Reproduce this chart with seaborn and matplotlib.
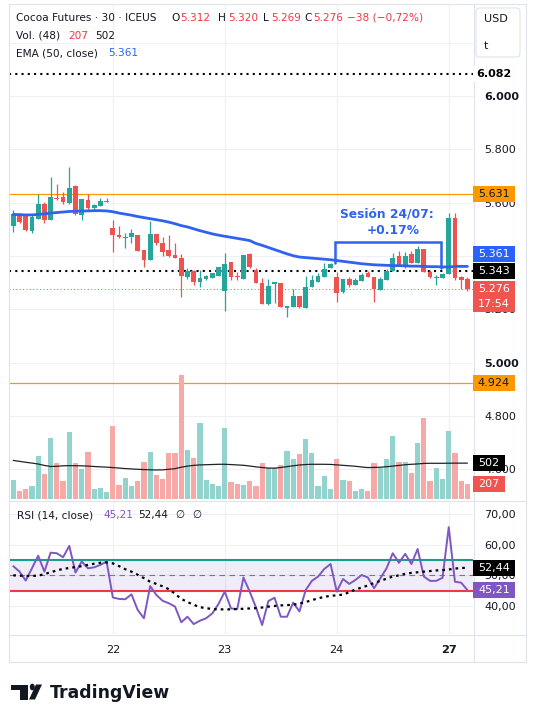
import numpy as np
import pandas as pd
import seaborn as sns
import matplotlib.pyplot as plt
from matplotlib.lines import Line2D
from matplotlib.patches import Rectangle, Polygon, Circle, FancyBboxPatch

# Cocoa Futures, 30 min bars (21 Jul afternoon -> 27 Jul morning)
opens = [5.512, 5.554, 5.550, 5.494, 5.539, 5.595, 5.535, 5.619, 5.622, 5.600,
         5.664, 5.554, 5.610, 5.581, 5.587, 5.604,
         5.504, 5.479, 5.469, 5.472, 5.479, 5.422, 5.385, 5.482, 5.447, 5.422,
         5.404, 5.391, 5.320, 5.345, 5.304, 5.315, 5.319, 5.326,
         5.270, 5.379, 5.326, 5.314, 5.407, 5.347, 5.297, 5.219, 5.294, 5.300,
         5.206, 5.210, 5.250, 5.206, 5.282, 5.304, 5.320, 5.354,
         5.320, 5.266, 5.312, 5.291, 5.306, 5.337, 5.322, 5.272, 5.310, 5.345,
         5.400, 5.362, 5.407, 5.372, 5.425, 5.341, 5.318, 5.316,
         5.332, 5.541, 5.320, 5.312]
highs = [5.572, 5.560, 5.554, 5.554, 5.631, 5.604, 5.697, 5.670, 5.641, 5.735,
         5.666, 5.614, 5.632, 5.595, 5.616, 5.616,
         5.535, 5.512, 5.485, 5.501, 5.479, 5.422, 5.531, 5.482, 5.470, 5.479,
         5.447, 5.407, 5.354, 5.347, 5.347, 5.329, 5.337, 5.357,
         5.410, 5.379, 5.341, 5.404, 5.410, 5.354, 5.316, 5.312, 5.303, 5.300,
         5.212, 5.275, 5.250, 5.325, 5.329, 5.335, 5.372, 5.372,
         5.341, 5.314, 5.322, 5.316, 5.335, 5.343, 5.322, 5.320, 5.350, 5.410,
         5.420, 5.416, 5.420, 5.437, 5.425, 5.347, 5.329, 5.335,
         5.563, 5.560, 5.325, 5.320]
lows = [5.491, 5.522, 5.495, 5.487, 5.539, 5.525, 5.535, 5.610, 5.595, 5.595,
        5.554, 5.535, 5.572, 5.572, 5.587, 5.604,
        5.416, 5.466, 5.431, 5.450, 5.420, 5.357, 5.385, 5.441, 5.400, 5.397,
        5.391, 5.245, 5.314, 5.291, 5.285, 5.310, 5.316, 5.326,
        5.195, 5.310, 5.310, 5.314, 5.354, 5.300, 5.219, 5.216, 5.222, 5.210,
        5.172, 5.210, 5.204, 5.204, 5.282, 5.304, 5.320, 5.354,
        5.229, 5.260, 5.285, 5.291, 5.306, 5.322, 5.229, 5.272, 5.310, 5.345,
        5.362, 5.354, 5.372, 5.372, 5.341, 5.316, 5.291, 5.316,
        5.332, 5.310, 5.275, 5.269]
closes = [5.556, 5.529, 5.497, 5.547, 5.595, 5.535, 5.622, 5.612, 5.601, 5.656,
          5.557, 5.614, 5.579, 5.591, 5.607, 5.606,
          5.479, 5.470, 5.470, 5.485, 5.420, 5.385, 5.482, 5.447, 5.416, 5.400,
          5.394, 5.325, 5.344, 5.304, 5.319, 5.325, 5.335, 5.357,
          5.370, 5.322, 5.322, 5.404, 5.357, 5.300, 5.219, 5.287, 5.301, 5.210,
          5.212, 5.250, 5.210, 5.282, 5.310, 5.325, 5.350, 5.369,
          5.262, 5.314, 5.291, 5.310, 5.329, 5.322, 5.275, 5.312, 5.344, 5.391,
          5.362, 5.400, 5.372, 5.425, 5.341, 5.320, 5.322, 5.332,
          5.541, 5.316, 5.310, 5.276]
volumes = [266, 112, 140, 182, 602, 350, 854, 504, 252, 938, 504, 420, 658, 140, 154, 98,
           1022, 196, 294, 182, 252, 518, 658, 336, 280, 644, 644, 1737, 686, 574, 1064, 266, 210, 182,
           994, 238, 210, 196, 252, 182, 504, 434, 429, 476, 677, 560, 630, 840, 644, 182, 322, 140,
           560, 266, 252, 112, 140, 112, 504, 439, 560, 882, 518, 518, 364, 784, 1134, 252, 434, 280,
           952, 644, 252, 207]
vol_ma = [540, 527, 514, 503, 490, 470, 455, 458, 465, 467, 466, 464, 461, 455, 450, 446,
          440, 433, 426, 421, 416, 412, 409, 406, 408, 416, 425, 445, 460, 471, 477, 480, 483, 486,
          486, 482, 477, 472, 462, 450, 441, 433, 432, 441, 453, 465, 476, 483, 486, 486, 486, 484,
          478, 471, 465, 458, 448, 440, 442, 445, 452, 461, 470, 480, 486, 491, 498, 500, 500, 500,
          501, 502, 502, 502]
ema50 = [5.556, 5.555, 5.554, 5.554, 5.556, 5.558, 5.561, 5.563, 5.565, 5.567, 5.568, 5.569,
         5.569, 5.570, 5.570, 5.569,
         5.566, 5.561, 5.557, 5.553, 5.548, 5.544, 5.540, 5.536, 5.532, 5.527, 5.521, 5.514,
         5.509, 5.502, 5.495, 5.489, 5.483, 5.478,
         5.474, 5.470, 5.466, 5.462, 5.458, 5.447, 5.440, 5.432, 5.424, 5.416, 5.408, 5.401,
         5.396, 5.394, 5.392, 5.390, 5.388, 5.386,
         5.383, 5.380, 5.377, 5.374, 5.371, 5.369, 5.367, 5.366, 5.365, 5.364, 5.364, 5.363,
         5.362, 5.362, 5.361, 5.360, 5.360, 5.359,
         5.359, 5.361, 5.361, 5.361]
rsi = [53.0, 51.2, 48.3, 52.3, 56.4, 51.2, 57.4, 57.2, 55.9, 59.6, 50.9, 54.5, 52.3, 52.6, 53.4, 54.5,
       42.8, 42.3, 42.2, 43.8, 38.7, 36.0, 46.5, 43.6, 41.7, 40.9, 39.8, 34.7, 36.5, 34.1, 35.2, 36.0,
       37.6, 40.7,
       44.7, 39.2, 39.0, 49.3, 44.7, 39.6, 33.8, 41.6, 42.7, 36.5, 36.5, 41.1, 38.2, 45.2, 48.2, 49.6,
       52.1, 53.7,
       44.7, 48.8, 47.2, 48.5, 50.1, 49.3, 45.8, 49.0, 52.3, 57.2, 54.1, 57.0, 53.7, 58.6, 49.6, 48.2,
       48.2, 49.2,
       65.7, 47.9, 47.6, 45.21]
rsi_ma = [50.0, 49.9, 49.8, 49.8, 49.9, 50.4, 51.0, 51.6, 52.1, 52.4, 52.7, 53.0, 53.4, 53.8, 54.1, 54.2,
          53.9, 53.0, 52.0, 51.2, 50.2, 49.1, 47.9, 47.2, 46.4, 45.5, 44.0, 42.3, 41.3, 40.4, 39.6, 39.3,
          39.0, 38.9,
          38.9, 38.9, 39.0, 39.1, 39.2, 39.3, 39.5, 39.8, 40.0, 40.2, 40.3, 40.4, 40.8, 41.3, 41.9, 42.5,
          43.0, 43.3,
          43.5, 43.7, 44.5, 45.4, 46.0, 46.7, 47.5, 48.2, 48.9, 49.6, 50.0, 50.5, 50.8, 51.0, 51.2, 51.4,
          51.6, 51.7,
          51.9, 52.2, 52.4, 52.44]
day_labels = ['22', '23', '24', '27']
day_first_bar = [17, 35, 53, 71]
price_ticks = [6.2, 6.0, 5.8, 5.6, 5.4, 5.2, 5.0, 4.8, 4.6]
hidden_ticks = [6.2, 5.4]          # covered by the currency box / EMA tag
bold_ticks = [6.0, 5.0]
rsi_ticks = [70, 60, 50, 40]
alert_high, alert_low = 5.631, 4.924
prev_level, top_level = 5.343, 6.082

sns.set_style("white")
plt.rcParams['font.family'] = ['DejaVu Sans']

W, H = 535, 711
UP, DOWN = '#26A69A', '#EF5350'
TXT = '#131722'
GRID = '#EEF0F4'
FRAME = '#E0E3EB'
BLUE = '#2F62EE'
RED = '#F23645'

bars = np.arange(1, len(closes) + 1)
df = pd.DataFrame({'bar': bars, 'open': opens, 'high': highs, 'low': lows, 'close': closes,
                   'vol': volumes, 'vol_ma': vol_ma, 'ema': ema50, 'rsi': rsi, 'rsi_ma': rsi_ma})
df['dir'] = np.where(df['close'] >= df['open'], 'up', 'down')
cols = np.where(df['dir'] == 'up', UP, DOWN)
vcols = np.where(df['dir'] == 'up', '#92D3CD', '#F7A9A7')

fig = plt.figure(figsize=(W / 100, H / 100), dpi=100)


def px_axes(x0, y0, x1, y1):
    return fig.add_axes([x0 / W, 1 - y1 / H, (x1 - x0) / W, (y1 - y0) / H])


ax = px_axes(9, 4, 473, 500)
axv = ax.twinx()
axr = px_axes(9, 501, 473, 634)

# ---- price pane ----
ax.set_xlim(0.31, 74.9)
ax.set_ylim(4.485, 6.345)
ax.vlines(df['bar'], df['low'], df['high'], colors=cols, lw=0.9, zorder=3)
body = (df['close'] - df['open']).abs().clip(lower=0.003)
ax.bar(df['bar'], body, bottom=df[['open', 'close']].min(axis=1), width=0.76, color=cols,
       lw=0, zorder=3)
sns.lineplot(data=df, x='bar', y='ema', ax=ax, color=BLUE, lw=2.0, zorder=4)

ax.axhline(alert_high, color='#FF9800', lw=0.9, zorder=2)
ax.axhline(alert_low, color='#FF9800', lw=0.9, zorder=2)
ax.axhline(top_level, color='black', lw=1.5, ls=(0, (1, 2)), zorder=2)
ax.axhline(prev_level, color='black', lw=1.5, ls=(0, (1, 2)), zorder=2)
ax.axhline(closes[-1], color=DOWN, lw=0.7, ls=(0, (1, 2.5)), zorder=2)

# session bracket + note
ax.plot([52.75, 52.75, 69.7, 69.7], [5.372, 5.454, 5.454, 5.354], color=BLUE, lw=1.8, zorder=5,
        solid_joinstyle='miter')
ax.text(61.0, 5.558, 'Sesión 24/07:', color=BLUE, fontsize=8.8, fontweight='bold',
        ha='center', va='center', zorder=6)
ax.text(62.0, 5.494, '+0.17%', color=BLUE, fontsize=8.8, fontweight='bold',
        ha='center', va='center', zorder=6)

ax.set_yticks(price_ticks)
ax.set_yticklabels(['' if t in hidden_ticks else f'{t:.3f}' for t in price_ticks])
ax.yaxis.tick_right()
ax.tick_params(axis='y', length=0, pad=8, labelsize=8, labelcolor=TXT)
for t, lab in zip(price_ticks, ax.get_yticklabels()):
    if t in bold_ticks:
        lab.set_fontweight('bold')
ax.set_xticks(day_first_bar)
ax.tick_params(axis='x', length=0, labelbottom=False)
ax.grid(True, color=GRID, lw=0.8)
ax.set_axisbelow(True)
ax.set_xlabel('')
ax.set_ylabel('')
for s in ax.spines.values():
    s.set_visible(False)

# ---- volume overlay ----
axv.bar(df['bar'], df['vol'], width=0.84, color=vcols, lw=0)
sns.lineplot(data=df, x='bar', y='vol_ma', ax=axv, color='#222222', lw=0.9)
axv.set_xlim(0.31, 74.9)
axv.set_ylim(-14, 6930)
axv.set_yticks([])
axv.set_xlabel('')
axv.set_ylabel('')
for s in axv.spines.values():
    s.set_visible(False)

# ---- RSI pane ----
axr.set_xlim(0.31, 74.9)
axr.set_ylim(30.87, 74.24)
axr.axhspan(45, 55, color='#7E57C2', alpha=0.1, lw=0)
axr.axhline(55, color='#159E8E', lw=1.5)
axr.axhline(45, color=RED, lw=1.5)
axr.axhline(50, color='#787B86', lw=0.8, ls=(0, (5, 4)))
sns.lineplot(data=df, x='bar', y='rsi', ax=axr, color='#7E57C2', lw=1.4)
sns.lineplot(data=df, x='bar', y='rsi_ma', ax=axr, color='black', lw=1.6, ls=(0, (1.2, 1.8)))
axr.set_yticks(rsi_ticks)
axr.set_yticklabels([f'{t},00' for t in rsi_ticks])
axr.yaxis.tick_right()
axr.tick_params(axis='y', length=0, pad=8, labelsize=8, labelcolor=TXT)
axr.set_xticks(day_first_bar)
axr.set_xticklabels(day_labels)
axr.tick_params(axis='x', length=0, pad=8, labelsize=8.2, labelcolor=TXT)
axr.get_xticklabels()[-1].set_fontweight('bold')
axr.grid(True, color=GRID, lw=0.8)
axr.set_axisbelow(True)
axr.set_xlabel('')
axr.set_ylabel('')
for s in axr.spines.values():
    s.set_visible(False)


# ---- frame lines ----
def hline(y, x0=8.5, x1=525.5):
    fig.add_artist(Line2D([x0 / W, x1 / W], [1 - y / H, 1 - y / H], color=FRAME, lw=0.8))


def vline(x, y0=3.5, y1=661.5):
    fig.add_artist(Line2D([x / W, x / W], [1 - y0 / H, 1 - y1 / H], color=FRAME, lw=0.8))


hline(3.5)
hline(500.5)
hline(634.5)
hline(661.5)
vline(8.5)
vline(473.5)
vline(525.5)


# ---- price tags on the axis ----
def tag(axis, val, text, fc, tc, x1=515, h=16, dy=0, weight='normal'):
    yd = axis.transData.transform((1, val))[1] + dy
    fig.add_artist(Rectangle((473 / W, (yd - h / 2) / H), (x1 - 473) / W, h / H,
                             transform=fig.transFigure, fc=fc, ec='none', zorder=5))
    fig.text((473 + x1) / 2 / W, yd / H, text, ha='center', va='center', color=tc,
             fontsize=8, zorder=6, fontweight=weight)


tag(ax, top_level, f'{top_level:.3f}', 'white', 'black', weight='bold')
tag(ax, alert_high, f'{alert_high:.3f}', '#FF9800', TXT)
tag(ax, ema50[-1], f'{ema50[-1]:.3f}', '#2962FF', 'white', dy=12)
tag(ax, prev_level, f'{prev_level:.3f}', 'black', 'white')
yd = ax.transData.transform((1, closes[-1]))[1]
fig.add_artist(Rectangle((473 / W, (yd - 23) / H), 42 / W, 31 / H, transform=fig.transFigure,
                         fc='#F0544F', ec='none', zorder=5))
fig.text(494 / W, yd / H, f'{closes[-1]:.3f}', ha='center', va='center', color='white',
         fontsize=8, zorder=6)
fig.text(494 / W, (yd - 15) / H, '17:54', ha='center', va='center', color='white',
         fontsize=8, zorder=6)
tag(ax, alert_low, f'{alert_low:.3f}', '#FF9800', TXT)
tag(axv, vol_ma[-1], f'{vol_ma[-1]}', 'black', 'white', x1=505)
tag(axv, volumes[-1], f'{volumes[-1]}', '#F0544F', 'white', x1=505)
tag(axr, rsi_ma[-1], f'{rsi_ma[-1]:.2f}'.replace('.', ','), 'black', 'white')
tag(axr, rsi[-1], f'{rsi[-1]:.2f}'.replace('.', ','), '#7E57C2', 'white')

# currency box
fig.add_artist(FancyBboxPatch((476 / W, 1 - 57 / H), 44 / W, 49 / H, transform=fig.transFigure,
                              boxstyle='round,pad=0,rounding_size=0.006', fc='white', ec=FRAME,
                              lw=0.8, zorder=5))
fig.text(484 / W, 1 - 19 / H, 'USD', fontsize=8, color=TXT, va='center', zorder=6)
fig.text(484 / W, 1 - 46 / H, 't', fontsize=8, color=TXT, va='center', zorder=6)


# ---- legends ----
def put(x, y, s, c=TXT, size=7.6):
    fig.text(x / W, 1 - y / H, s, color=c, fontsize=size, va='center', ha='left', zorder=6)


put(16, 18, 'Cocoa Futures · 30 · ICEUS')
for x, s, c in [(171, 'O', TXT), (180, '5.312', RED), (218, 'H', TXT), (228, '5.320', RED),
                (263, 'L', TXT), (271, '5.269', RED), (304, 'C', TXT), (313, '5.276', RED),
                (347, '−38 (−0,72%)', RED)]:
    put(x, 18, s, c)
put(16, 36, 'Vol. (48)')
put(68, 36, '207', RED)
put(95, 36, '502')
put(16, 53, 'EMA (50, close)')
put(108, 53, '5.361', '#2962FF')
put(17, 515, 'RSI (14, close)')
put(103, 515, '45,21', '#7E57C2')
put(138, 515, '52,44')
put(175, 515, '∅')
put(192, 515, '∅')


# ---- TradingView logo ----
def fpt(x, y):
    return (x / W, 1 - y / H)


fig.add_artist(Polygon([fpt(11, 684.5), fpt(27.5, 684.5), fpt(27.5, 699.5), fpt(19.5, 699.5),
                        fpt(19.5, 690.3), fpt(11, 690.3)], closed=True, transform=fig.transFigure,
                       fc='#131722', ec='none'))
fig.add_artist(Circle(fpt(32.3, 687.0), 2.5 / W, transform=fig.transFigure, fc='#131722', ec='none'))
fig.add_artist(Polygon([fpt(36.0, 684.5), fpt(42.0, 684.5), fpt(35.0, 699.5), fpt(29.0, 699.5)],
                       closed=True, transform=fig.transFigure, fc='#131722', ec='none'))
fig.text(50 / W, 1 - 692.5 / H, 'TradingView', fontsize=12.4, fontweight='bold', color='#131722',
         va='center', ha='left')

fig.savefig('out.png', dpi=100, facecolor='white')
